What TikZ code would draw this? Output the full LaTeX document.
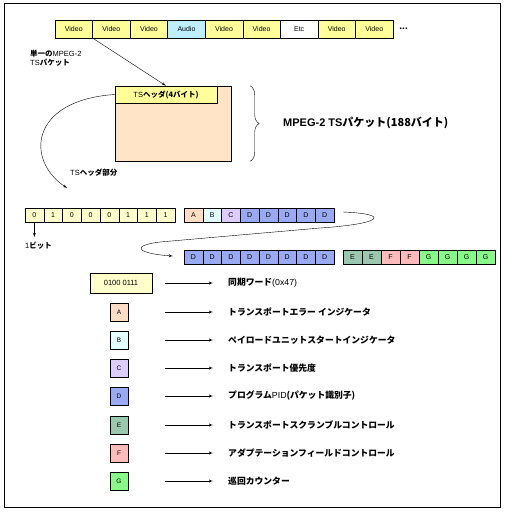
\documentclass[tikz,border=0pt]{standalone}
\usepackage{fontspec}
\setmainfont{Liberation Sans}
\newfontfamily\jp{Noto Sans CJK JP}
\usepackage{tikz}
\usetikzlibrary{shapes,arrows,positioning,calc,decorations.pathreplacing}
\newcommand{\jb}[1]{{\jp\bfseries #1}}
\definecolor{vidfill}{HTML}{FFFF99}
\definecolor{audfill}{HTML}{BFEFFF}
\definecolor{pktfill}{HTML}{FFE4C8}
\definecolor{bitfill}{HTML}{FFFFCC}
\definecolor{keyA}{HTML}{FFDDC4}
\definecolor{keyB}{HTML}{E4FFFF}
\definecolor{keyC}{HTML}{DDCCFF}
\definecolor{keyD}{HTML}{99AAF2}
\definecolor{keyE}{HTML}{99C8AE}
\definecolor{keyF}{HTML}{FFBBBB}
\definecolor{keyG}{HTML}{88F888}
\begin{document}
\begin{tikzpicture}[x=1pt,y=-1pt,
    pkt/.style={draw,minimum width=37.56pt,minimum height=18pt,inner sep=0pt,
                font=\fontsize{7}{8}\selectfont},
    bit/.style={draw,minimum width=18.75pt,minimum height=14pt,inner sep=0pt,
                font=\fontsize{7}{8}\selectfont},
    key/.style={draw,minimum width=18pt,minimum height=18pt,inner sep=0pt,
                font=\fontsize{6.5}{7}\selectfont},
    desc/.style={anchor=west,inner sep=1pt,font=\fontsize{8.8}{10}\selectfont},
    note/.style={anchor=west,inner sep=0pt,align=left,
                 font=\fontsize{7.5}{8.5}\selectfont},
    line/.style={draw,-latex'}]
    \useasboundingbox (0,0) rectangle (505,512);
    \draw[line width=0.8pt] (4,3) rectangle (500,507);
    % stream of packets
    \foreach \lbl/\col [count=\i from 0] in {Video/vidfill,Video/vidfill,Video/vidfill,
        Audio/audfill,Video/vidfill,Video/vidfill,Etc/white,Video/vidfill,Video/vidfill}
        \node[pkt,fill=\col](p\i) at ({55+37.56*\i+18.78},29){\lbl};
    \node[right=6pt of p8,inner sep=0pt,font=\bfseries](more){...};
    % one packet
    \node[draw,fill=pktfill,minimum width=116pt,minimum height=75pt](pkbody) at (173,123.5){};
    \node[draw,fill=vidfill,minimum width=102pt,minimum height=17pt,inner sep=0pt,
          anchor=north west,font=\fontsize{7.5}{8.5}\selectfont](hdr) at (pkbody.north west)
          {TS\jb{ヘッダ(4バイト)}};
    \node[note](single) at (30,58){\jb{単一の}MPEG-2\\TS\jb{パケット}};
    \draw[line](p0.south east)--(hdr.north);
    \draw[decorate,decoration={brace,amplitude=9pt}]
        ([xshift=19pt]pkbody.north east)--([xshift=19pt]pkbody.south east);
    \node[anchor=west,inner sep=0pt,font=\bfseries\fontsize{11}{13}\selectfont](pktlbl)
        at (283,123){MPEG-2 TS\jb{パケット(188バイト)}};
    % header bits
    \foreach \v [count=\i from 0] in {0,1,0,0,0,1,1,1}
        \node[bit,fill=bitfill](b\i) at ({25+18.75*\i+9.375},215){\v};
    \foreach \v/\col [count=\i from 0] in {A/keyA,B/keyB,C/keyC,D/keyD,D/keyD,D/keyD,D/keyD,D/keyD}
        \node[bit,fill=\col](h\i) at ({184+18.75*\i+9.375},215){\v};
    \foreach \i in {0,...,7}
        \node[bit,fill=keyD](r\i) at ({184+18.75*\i+9.375},257){D};
    \foreach \v/\col [count=\i from 0] in {E/keyE,E/keyE,F/keyF,F/keyF,G/keyG,G/keyG,G/keyG,G/keyG}
        \node[bit,fill=\col,minimum width=19pt](s\i) at ({343+19*\i+9.5},257){\v};
    \coordinate (bitin) at (67,188);
    \draw[line](hdr.west) .. controls (30,100) and (25,160) .. (bitin);
    \node[note](hdrlbl) at (70,173){TS\jb{ヘッダ部分}};
    \node[note](onebit) at (25,246){1\jb{ビット}};
    \draw[line,shorten >=5pt](b0.south)--(b0.south |- onebit.north);
    \coordinate (wrapin) at (173,256);
    \draw[line]([xshift=9pt,yshift=3pt]h7.east) .. controls (392,214) and (382,224) .. (320,228)
        --(160,242) .. controls (128,246) and (140,254) .. (wrapin);
    % legend
    \node[draw,fill=bitfill,minimum width=62pt,minimum height=20pt,inner sep=0pt,
          font=\fontsize{7.5}{8}\selectfont](sync) at (121,283){0100 0111};
    \node[desc](syncdesc) at (227,283){\jb{同期ワード}(0x47)};
    \draw[line,shorten <=13pt,shorten >=14pt](sync.east)--(syncdesc.west);
    \foreach \k/\y/\txt in {A/312/{\jb{トランスポートエラー インジケータ}},
        B/340/{\jb{ペイロードユニットスタートインジケータ}},
        C/368/{\jb{トランスポート優先度}},
        D/396/{\jb{プログラム}PID\jb{(パケット識別子)}},
        E/425/{\jb{トランスポートスクランブルコントロール}},
        F/453/{\jb{アダプテーションフィールドコントロール}},
        G/481/{\jb{巡回カウンター}}}{
        \node[key,fill=key\k](key\k) at (119,\y){\k};
        \node[desc](desc\k) at (227,\y){\txt};
        \draw[line,shorten <=37pt,shorten >=14pt](key\k.east)--(desc\k.west);
    }
\end{tikzpicture}
\end{document}
